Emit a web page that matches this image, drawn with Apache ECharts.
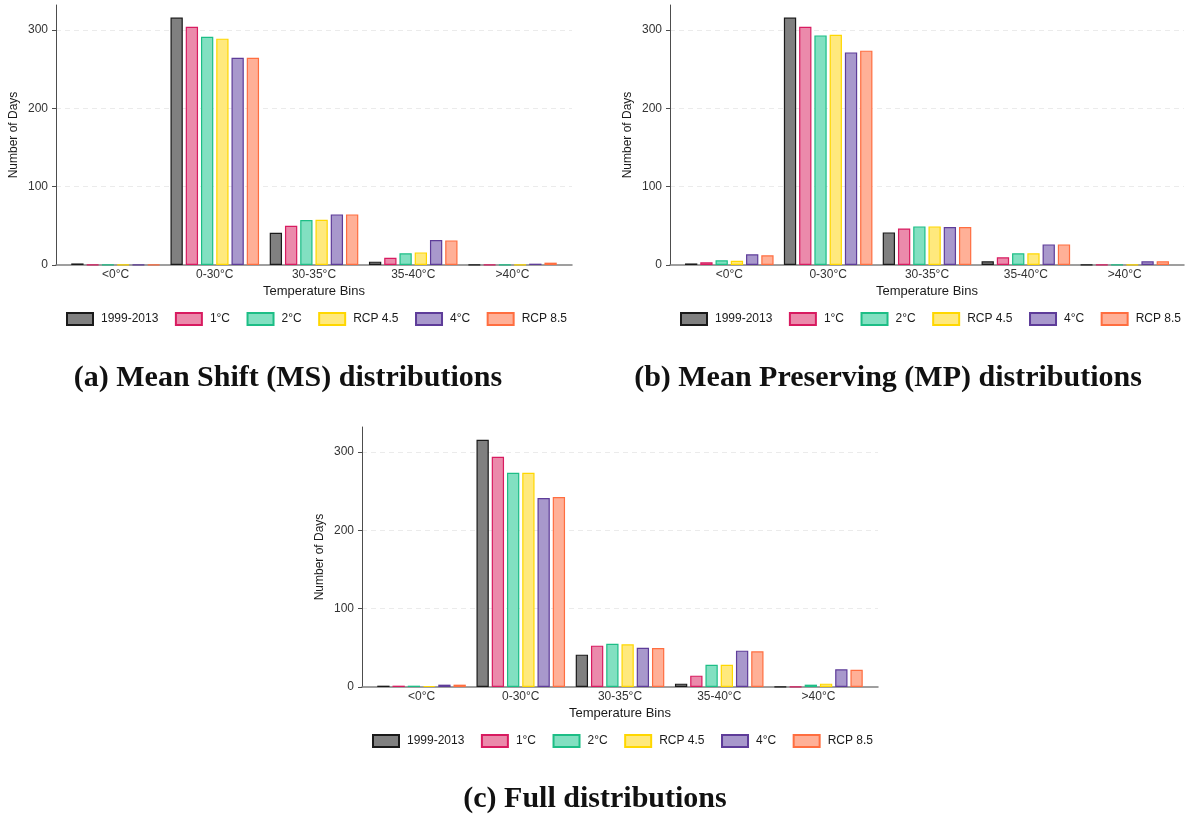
<!DOCTYPE html>
<html>
<head>
<meta charset="utf-8">
<script src="https://cdn.jsdelivr.net/npm/echarts@6/dist/echarts.min.js"></script>
<style>
html,body{margin:0;padding:0;background:#fff;}
#chart{width:1187px;height:814px;}
</style>
</head>
<body>
<div id="chart"></div>
<script>
const categories = ['<0°C', '0-30°C', '30-35°C', '35-40°C', '>40°C'];
const seriesNames = ['1999-2013', '1°C', '2°C', 'RCP 4.5', '4°C', 'RCP 8.5'];
const yTicks = [0, 100, 200, 300];
const panelTitles = ['(a) Mean Shift (MS) distributions', '(b) Mean Preserving (MP) distributions', '(c) Full distributions'];

// (a) Mean Shift
const msBaseline = [2, 316, 41.2, 4.3, 0.5];
const ms1C = [0.5, 304.3, 50.1, 9.3, 0.5];
const ms2C = [0.5, 291.5, 57.4, 14.9, 0.5];
const msRcp45 = [0.5, 289, 57.8, 16.1, 0.5];
const ms4C = [0.5, 264.7, 64.6, 31.9, 1.7];
const msRcp85 = [0.5, 264.7, 64.6, 31.4, 3];

// (b) Mean Preserving
const mpBaseline = [2, 316, 41.6, 4.7, 0.5];
const mp1C = [3.4, 304.3, 46.7, 9.8, 0.5];
const mp2C = [6, 293.2, 49.3, 14.9, 0.5];
const mpRcp45 = [5.5, 294, 49.3, 14.9, 0.5];
const mp4C = [13.6, 271.5, 48.4, 26.3, 4.7];
const mpRcp85 = [12.3, 273.7, 48.4, 26.3, 4.7];

// (c) Full
const fullBaseline = [1.7, 315.7, 41.3, 4.3, 0.5];
const full1C = [1.7, 294, 52.8, 14.5, 0.5];
const full2C = [1.7, 273.6, 55.3, 28.5, 3];
const fullRcp45 = [1.3, 273.6, 54.5, 28.5, 4.3];
const full4C = [3, 241.3, 50.2, 46.4, 22.6];
const fullRcp85 = [3, 242.6, 49.8, 45.5, 22.1];

const fillColors = ['#808080', '#EB8AAB', '#82E0C1', '#FFE97D', '#A898CC', '#FFB097'];
const borderColors = ['#1a1a1a', '#D81B60', '#1DBE86', '#FFD700', '#5E3C99', '#FF6E40'];

const panels = [
  {data: [msBaseline, ms1C, ms2C, msRcp45, ms4C, msRcp85], left: 56, top: 5, titleX: 288, titleY: 363},
  {data: [mpBaseline, mp1C, mp2C, mpRcp45, mp4C, mpRcp85], left: 670, top: 5, titleX: 888, titleY: 363},
  {data: [fullBaseline, full1C, full2C, fullRcp45, full4C, fullRcp85], left: 362, top: 427, titleX: 595, titleY: 784}
];

const FONT = 'Liberation Sans, Arial, Helvetica, sans-serif';
const grids = [], xAxes = [], yAxes = [], series = [], legends = [], titles = [];

panels.forEach((p, pi) => {
  grids.push({left: p.left, top: p.top, width: 516, height: 260, containLabel: false});
  xAxes.push({
    type: 'value', gridIndex: pi, min: 0.4, max: 5.6, interval: 0.2,
    name: 'Temperature Bins', nameLocation: 'middle', nameGap: 20,
    nameTextStyle: {fontFamily: FONT, fontSize: 13, color: '#1a1a1a'},
    axisLine: {show: true, onZero: false, lineStyle: {color: '#808080', width: 1.5}},
    axisTick: {show: false},
    splitLine: {show: false},
    axisLabel: {
      fontFamily: FONT, fontSize: 12, color: '#333', margin: 4,
      formatter: function (v) {
        const k = Math.round(v);
        if (Math.abs(v - k) < 1e-6 && k >= 1 && k <= categories.length) return categories[k - 1];
        return '';
      }
    }
  });
  yAxes.push({
    type: 'value', gridIndex: pi, min: 0, max: 332, interval: 100,
    name: 'Number of Days', nameLocation: 'middle', nameGap: 36, nameRotate: 90,
    nameTextStyle: {fontFamily: FONT, fontSize: 12, color: '#1a1a1a'},
    axisLine: {show: true, lineStyle: {color: '#4d4d4d', width: 1}},
    axisTick: {show: true, length: 4, inside: false, customValues: yTicks, lineStyle: {color: '#4d4d4d'}},
    axisLabel: {fontFamily: FONT, fontSize: 12, color: '#333', margin: 8, customValues: yTicks},
    splitLine: {show: true, showMinLine: false, lineStyle: {color: '#ebebeb', type: [5, 4], width: 1}}
  });
  p.data.forEach((vals, si) => {
    series.push({
      name: seriesNames[si], type: 'bar', xAxisIndex: pi, yAxisIndex: pi,
      barWidth: 12.3, barGap: '24%',
      itemStyle: {color: fillColors[si], borderColor: borderColors[si], borderWidth: 1.2},
      data: vals.map((v, i) => [i + 1, v])
    });
  });
  legends.push({
    data: seriesNames, left: p.left + 10, top: p.top + 307, padding: 0,
    itemWidth: 26, itemHeight: 12, itemGap: 16.5, icon: 'rect',
    textStyle: {fontFamily: FONT, fontSize: 12, color: '#1a1a1a', padding: [0, 0, 0, 3]}
  });
  titles.push({
    text: panelTitles[pi], left: p.titleX, top: p.titleY, textAlign: 'center', padding: 0,
    textStyle: {fontFamily: 'Liberation Serif, Times New Roman, serif', fontWeight: 'bold', fontSize: 30, color: '#111'}
  });
});

const chart = echarts.init(document.getElementById('chart'), null, {renderer: 'canvas'});
chart.setOption({
  backgroundColor: '#fff',
  animation: false,
  title: titles,
  grid: grids,
  xAxis: xAxes,
  yAxis: yAxes,
  legend: legends,
  series: series
});
</script>
</body>
</html>
